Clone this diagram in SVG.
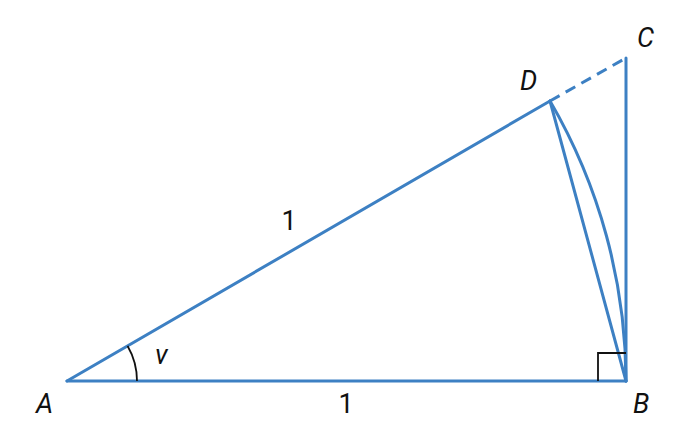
<svg xmlns="http://www.w3.org/2000/svg" width="696" height="439" viewBox="0 0 696 439">
<style>
.ln{fill:none;stroke:#3d80c3;stroke-width:3;stroke-linecap:round;stroke-linejoin:round}
.dash{fill:none;stroke:#3d80c3;stroke-width:3;stroke-dasharray:11 7}
.blk{fill:none;stroke:#111;stroke-width:1.8}
.lbl{font-family:Roboto,"Liberation Sans",sans-serif;font-size:27px;fill:#111;font-style:italic}
.num{font-family:Roboto,"Liberation Sans",sans-serif;font-size:27px;fill:#111;text-anchor:middle}
</style>
<rect width="696" height="439" fill="#fff"/>
<g id="connectors">
<line class="ln" x1="67" y1="381" x2="626" y2="381"/>
<line class="ln" x1="67" y1="381" x2="550" y2="101"/>
<line class="dash" x1="550" y1="101" x2="626" y2="58"/>
<line class="ln" x1="626" y1="58" x2="626" y2="381"/>
<line class="ln" x1="550" y1="101" x2="626" y2="381"/>
<path class="ln" d="M550 101 A559 559 0 0 1 626 381"/>
<path class="blk" d="M137 381 A70 70 0 0 0 127.6 346"/>
<path class="blk" d="M598 381 V353 H626"/>
</g>
<g id="A"><text class="lbl" x="36" y="413">A</text></g>
<g id="B"><text class="lbl" x="633" y="413">B</text></g>
<g id="C"><text class="lbl" x="637" y="47">C</text></g>
<g id="D"><text class="lbl" x="520" y="90">D</text></g>
<g id="labels">
<text class="num" x="289" y="230">1</text>
<text class="num" x="346" y="413">1</text>
<text class="lbl" x="155" y="364">v</text>
</g>
</svg>
